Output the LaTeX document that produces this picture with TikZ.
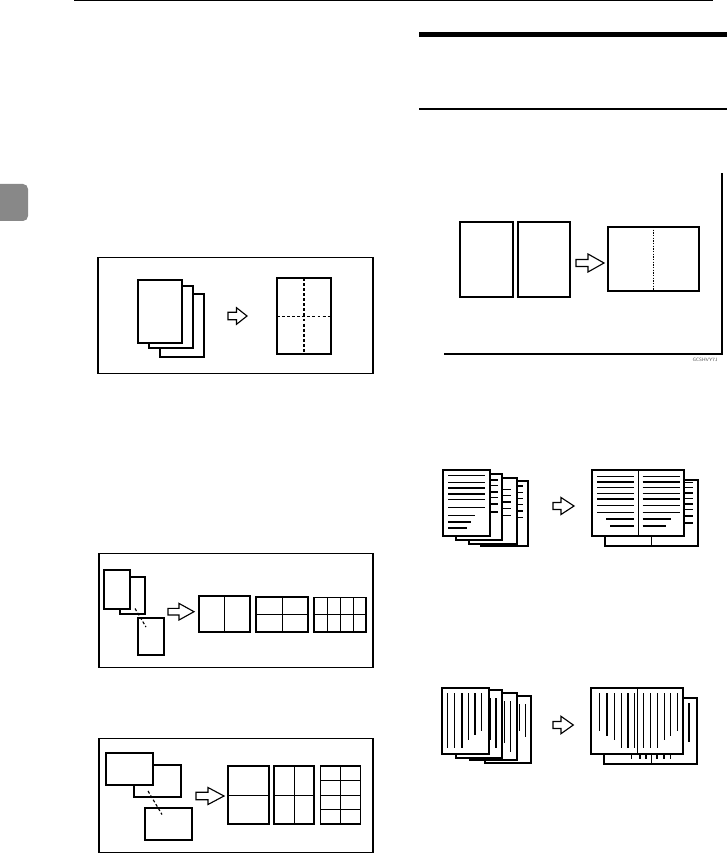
\documentclass[tikz,border=0pt]{standalone}
\definecolor{tabgray}{RGB}{136,136,136}
\newcommand\harr[6]{\draw[ln,fill=white,line join=miter] (#1,#4-#5) -- (#2,#4-#5) -- (#2,#4-#6) -- (#3,#4) -- (#2,#4+#6) -- (#2,#4+#5) -- (#1,#4+#5) -- cycle;}
\tikzset{
  ln/.style={line width=0.85pt},
  frame/.style={line width=1.05pt},
  page/.style={ln,fill=white},
  txt/.style={line width=0.85pt},
  dsh/.style={line width=0.85pt,dash pattern=on 2.2pt off 1.6pt},
  dot/.style={line width=0.85pt,dash pattern=on 1pt off 1pt},
}
\begin{document}
\begin{tikzpicture}[x=0.75pt,y=-0.75pt]
\useasboundingbox (0,0) rectangle (727,862);
\begin{scope}
\clip (0,0) rectangle (727,862);
% header rules
\draw[line width=1pt] (74,0.7) -- (713,0.7);
\fill (419,32) rectangle (727,37);
\fill (419,107.8) rectangle (727,110.2);
% side tab
\fill[tabgray,rounded corners=3.75pt] (-12,184) rectangle (28,221);

% ---------- Box 1 ----------
\draw[frame] (98,257.5) rectangle (373,373.5);
\draw[page] (160,294) rectangle (204,357);
\draw[page] (149,286) rectangle (193,348);
\draw[page] (138,280) rectangle (182,343);
\harr{228}{236.5}{247}{316}{3.7}{8.3}
\draw[ln] (277,278) rectangle (331,354);
\draw[dsh] (304,278) -- (304,354);
\draw[dsh] (277,316.5) -- (331,316.5);

% ---------- Top right ----------
\draw[ln] (444,354) -- (722,354) -- (722,173);
\node[font=\sffamily\fontsize{3.6}{3.6}\selectfont,inner sep=0pt,text=black!70] (code) at (705,360) {GCSHVY7J};
\draw[ln] (460,222) rectangle (513,297);
\draw[ln] (518,222) rectangle (570,297);
\harr{576}{588}{604}{263}{3.5}{9}
\draw[ln] (608,227) rectangle (699,291);
\draw[dot] (653.3,227) -- (653.3,291);

% ---------- Box 2 ----------
\draw[frame] (99,553.5) rectangle (373,667.5);
\draw[page] (120,577) rectangle (145,614);
\draw[page] (104,570) rectangle (130,609);
\draw[page] (138,618) rectangle (164,655);
\draw[dsh] (135,608.5) -- (146,627);
\harr{168}{179}{194}{611.7}{3.3}{8.3}
\draw[ln] (199,596) rectangle (250,632);
\draw[ln] (224.5,596) -- (224.5,632);
\draw[ln] (256,597) rectangle (308,632);
\draw[ln] (282.7,597) -- (282.7,632);
\draw[ln] (256,614.3) -- (308,614.3);
\draw[ln] (314,597.7) rectangle (366,632);
\foreach \x in {327.3,340.7,353.7} \draw[ln] (\x,597.7) -- (\x,632);
\draw[ln] (314,614.3) -- (366,614.3);

% ---------- Box 3 ----------
\draw[frame] (99,738.5) rectangle (373,852.5);
\draw[page] (134,765) rectangle (181,797);
\draw[page] (106,753) rectangle (153,785);
\draw[page] (145,808) rectangle (192,840);
\draw[dsh] (148,791) -- (162,814.5);
\harr{196}{208}{224}{796}{3.7}{8.5}
\draw[ln] (228,766) rectangle (269,824);
\draw[ln] (228,795.3) -- (269,795.3);
\draw[ln] (274,766) rectangle (314,824);
\draw[ln] (294.3,766) -- (294.3,824);
\draw[ln] (274,795.3) -- (314,795.3);
\draw[ln] (320.7,766) rectangle (360.7,824);
\draw[ln] (340.7,766) -- (340.7,824);
\foreach \y in {780.3,795.3,809.7} \draw[ln] (320.7,\y) -- (360.7,\y);

% ---------- Text pages stack ----------
\draw[page] (481,481) rectangle (528,546);
\foreach \y in {486,492.3,498.3,504.3,511,517.3} \draw[txt] (505,\y) -- (522.5,\y);
\draw[page] (469,478) rectangle (517,544);
\foreach \y in {489.7,495.7,502,508.3,515.7} \draw[txt] (495,\y) -- (511,\y);
\draw[page] (456,474) rectangle (502,540);
\foreach \y in {480,485.7,492,497.7,504,512} \draw[txt] (482,\y) -- (498,\y);
\draw[page] (443,470) rectangle (490,536);
\foreach \y in {475.7,482.3,488,494,499.7,507.3} \draw[txt] (448.3,\y) -- (485,\y);
\draw[txt] (448.3,515.3) -- (475,515.3);
\draw[txt] (448.3,522) -- (471,522);
\draw[txt] (448.3,528) -- (467,528);
\harr{553}{561}{574}{506}{3.5}{8.5}
% booklet
\draw[page] (605,480) rectangle (698,546);
\draw[ln] (651.3,536) -- (651.3,546);
\foreach \y in {482.5,487.3,493,498.7,504,509.7,516,523} \draw[txt] (680,\y) -- (693,\y);
\draw[page] (592,470) rectangle (684,536);
\draw[ln] (638.3,470) -- (638.3,536);
\foreach \y in {476.3,482,487.7,493.3,499,505.3,512.3} {
  \draw[txt] (597.3,\y) -- (634,\y);
  \draw[txt] (642.7,\y) -- (679.7,\y);
}
\draw[txt] (606,519) -- (634,519);
\draw[txt] (610.3,526) -- (634,526);
\draw[txt] (642.7,519) -- (671,519);
\draw[txt] (642.7,526) -- (665.7,526);

% ---------- Vertical text pages stack ----------
\draw[page] (485,696) rectangle (531,763);
\draw[txt] (519.7,704) -- (519.7,731);
\draw[txt] (525.3,704) -- (525.3,737);
\draw[page] (470,693) rectangle (517,760);
\draw[txt] (504.7,701) -- (504.7,743);
\draw[txt] (510.3,701) -- (510.3,752);
\draw[page] (456,690) rectangle (502,758);
\draw[txt] (490.3,698) -- (490.3,740);
\draw[txt] (496,698) -- (496,748);
\draw[page] (442,688) rectangle (489,754);
\foreach \x/\e in {447.7/748.3,454.7/748.3,462/748.3,468.7/739.7,475/735,481.7/730.7}
  \draw[txt] (\x,693.3) -- (\x,\e);
\harr{553}{561}{573.3}{725}{3.5}{8.7}
% booklet
\draw[page] (604,698) rectangle (697,764);
\draw[ln] (651.3,754) -- (651.3,764);
\foreach \x in {631.3,640,646,657,664,670.7} \draw[txt] (\x,754) -- (\x,759);
\draw[txt] (689,703) -- (689,742);
\draw[page] (591,688) rectangle (683,754);
\draw[ln] (637.3,688) -- (637.3,754);
\foreach \x/\e in {599.7/731,607/735.7,614.3/740,621.3/748.3,628/748.3,634.7/748.3,
                   643.7/748.3,650.7/748.3,657.7/748.3,664.3/740,670.7/735.7,677.3/731}
  \draw[txt] (\x,693.3) -- (\x,\e);
\end{scope}
\end{tikzpicture}
\end{document}
